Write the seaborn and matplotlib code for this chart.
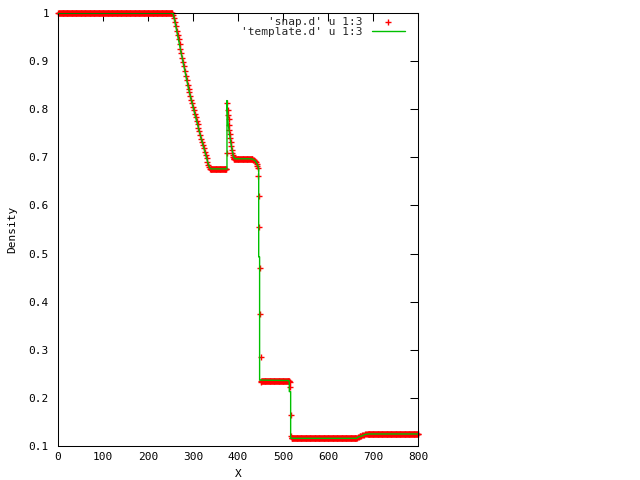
import numpy as np
import matplotlib
matplotlib.use("Agg")
import matplotlib.pyplot as plt
import seaborn as sns

# flat parts of the snapshot: start x, end x, density
plateau_start = [1, 338, 391, 452, 519, 689]
plateau_end = [254, 374, 431, 514, 663, 800]
plateau_rho = [1.0, 0.676, 0.697, 0.235, 0.116, 0.125]

# rarefaction ramp
ramp_x = list(range(256, 338, 2))
ramp_rho = [0.996, 0.990, 0.982, 0.972, 0.963, 0.954, 0.945, 0.935, 0.926, 0.917,
            0.907, 0.898, 0.889, 0.879, 0.870, 0.861, 0.851, 0.843, 0.835, 0.828,
            0.820, 0.813, 0.805, 0.798, 0.790, 0.783, 0.776, 0.769, 0.761, 0.754,
            0.747, 0.739, 0.732, 0.725, 0.719, 0.712, 0.705, 0.698, 0.691, 0.684,
            0.679]

# spike after the contact
spike_x = [375, 376, 377, 378, 379, 380, 381, 382, 383, 384, 385, 386, 387, 388, 389, 390]
spike_rho = [0.710, 0.813, 0.799, 0.789, 0.780, 0.768, 0.757, 0.749, 0.740, 0.732,
             0.724, 0.716, 0.709, 0.704, 0.700, 0.698]

# tail and first big drop
drop_x = [432, 434, 436, 438, 440, 442, 443, 444, 445, 446, 447, 448, 449, 450, 451]
drop_rho = [0.696, 0.695, 0.694, 0.692, 0.690, 0.686, 0.683, 0.678, 0.661, 0.620,
            0.555, 0.470, 0.374, 0.286, 0.234]

# shock
shock_x = [515, 516, 517, 518]
shock_rho = [0.234, 0.222, 0.164, 0.120]

# small step on the right
step_x = [664, 666, 668, 670, 672, 674, 676, 678, 680, 682, 684, 686, 688]
step_rho = [0.117, 0.118, 0.119, 0.120, 0.120, 0.121, 0.122, 0.122, 0.123, 0.124,
            0.124, 0.125, 0.125]

# template line vertices
tmpl_x = [0, 253, 256, 258, 273, 290, 304, 318, 328, 334, 337, 340, 375.5, 375.5,
          378, 382, 386, 390, 393, 430, 438, 443, 446, 446, 448, 448, 450, 513,
          514, 514, 517, 517, 663, 668, 676, 682, 690, 800]
tmpl_rho = [1.0, 1.0, 0.998, 0.990, 0.920, 0.843, 0.790, 0.740, 0.706, 0.686,
            0.678, 0.676, 0.676, 0.818, 0.771, 0.743, 0.719, 0.701, 0.697, 0.697,
            0.693, 0.685, 0.677, 0.493, 0.493, 0.237, 0.237, 0.236, 0.232, 0.213,
            0.213, 0.116, 0.116, 0.119, 0.121, 0.124, 0.125, 0.125]

x_ticks = [0, 100, 200, 300, 400, 500, 600, 700, 800]
y_ticks = [0.1, 0.2, 0.3, 0.4, 0.5, 0.6, 0.7, 0.8, 0.9, 1.0]
y_labels = ['0.1', '0.2', '0.3', '0.4', '0.5', '0.6', '0.7', '0.8', '0.9', '1']

# put the snapshot points together
snap_x = []
snap_rho = []
for s, e, r in zip(plateau_start, plateau_end, plateau_rho):
    xs = np.arange(s, e + 1, 1.0)
    snap_x.extend(xs)
    snap_rho.extend([r] * len(xs))
for xs, rs in [(ramp_x, ramp_rho), (spike_x, spike_rho), (drop_x, drop_rho),
               (shock_x, shock_rho), (step_x, step_rho)]:
    snap_x.extend(xs)
    snap_rho.extend(rs)

sns.set_theme(style="white")
plt.rcParams['font.family'] = ['DejaVu Sans Mono']

fig = plt.figure(figsize=(6.4, 4.8), dpi=100)
ax = fig.add_axes([58 / 640, 34 / 480, 360 / 640, 433 / 480])

sns.scatterplot(x=snap_x, y=snap_rho, marker='+', color='#ff0000', s=22,
                linewidth=1.0, ax=ax, label="'snap.d' u 1:3", clip_on=False, zorder=2)
sns.lineplot(x=tmpl_x, y=tmpl_rho, sort=False, estimator=None, color='#00c000',
             lw=1.0, ax=ax, label="'template.d' u 1:3", zorder=3)

ax.set_xlim(0, 800)
ax.set_ylim(0.1, 1.0)
ax.set_xticks(x_ticks)
ax.set_xticklabels([str(t) for t in x_ticks])
ax.set_yticks(y_ticks)
ax.set_yticklabels(y_labels)
ax.tick_params(direction='in', length=6, width=0.75, top=True, right=True,
               labelsize=8, color='black', labelcolor='black')
ax.tick_params(axis='y', pad=6.5)
ax.tick_params(axis='x', pad=4)
for sp in ax.spines.values():
    sp.set_linewidth(0.75)
    sp.set_color('black')

ax.set_xlabel('X', fontsize=8, color='black')
ax.set_ylabel('Density', fontsize=8, color='black')
ax.xaxis.set_label_coords(0.5, -0.052)
ax.yaxis.set_label_coords(-0.112, 0.5)

ax.legend(loc='upper right', bbox_to_anchor=(405 / 640, 463 / 480),
          bbox_transform=fig.transFigure, markerfirst=False, frameon=False,
          fontsize=8, handlelength=3.0, handletextpad=0.8, labelspacing=0.0,
          borderpad=0, borderaxespad=0)

fig.savefig('out.png', dpi=100)
